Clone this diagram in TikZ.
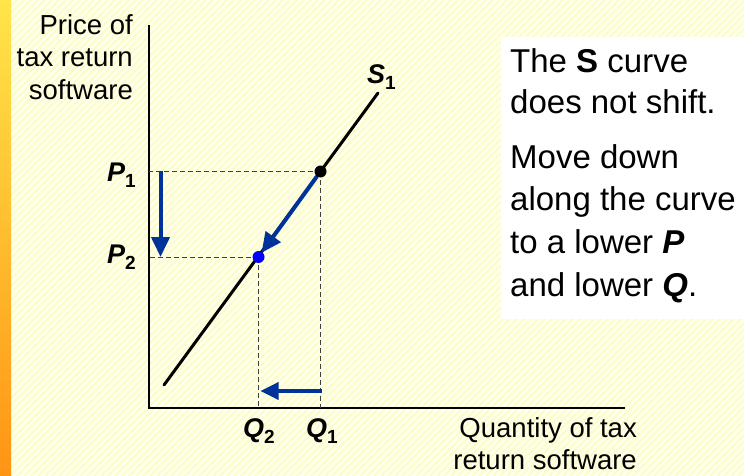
\documentclass[tikz,border=0pt]{standalone}
\usepackage{fontspec}
\setmainfont{Liberation Sans}
\usetikzlibrary{arrows.meta}
\definecolor{navy}{HTML}{003399}
\definecolor{bgcream}{HTML}{FFFFF2}
\definecolor{stripecol}{HTML}{FCFCCC}
\definecolor{striptop}{HTML}{FFE54A}
\definecolor{stripbot}{HTML}{FF9414}
\definecolor{dotblue}{HTML}{0000FF}
\newcommand{\sublab}[2]{\textbf{\textit{#1}}\raisebox{-6pt}{\fontsize{19}{19}\selectfont\bfseries #2}}
\tikzset{
  stripe/.style={stripecol, line width=2.6pt},
  axisline/.style={line width=2pt, black},
  supply/.style={line width=3pt, black},
  guide/.style={line width=0.9pt, black!75, dash pattern=on 5pt off 3pt},
  pdot/.style={circle, inner sep=0pt, minimum size=12pt},
  bigarrow/.style={navy, line width=4pt, -{Triangle[length=20pt,width=18pt]}},
  smallarrow/.style={navy, line width=3.5pt, -{Triangle[length=18pt,width=17pt]}},
  axislab/.style={inner sep=0pt, font=\fontsize{27.5}{32}\selectfont},
  boxtext/.style={inner sep=0pt, anchor=base west, font=\fontsize{33}{40}\selectfont},
  ptlab/.style={inner sep=0pt, font=\fontsize{27}{27}\selectfont}
}
\begin{document}
\begin{tikzpicture}[x=1pt,y=-1pt]
\useasboundingbox (0,0) rectangle (744,476);
% background
\fill[bgcream] (0,0) rectangle (744,476);
\begin{scope}
  \clip (11,0) rectangle (744,476);
  \foreach \i in {-480,-473,...,750} \draw[stripe] (\i,476) -- ++(476,-476);
\end{scope}
\shade[top color=striptop, bottom color=stripbot] (0,0) rectangle (11,476);
% text box
\fill[white] (501,37) rectangle (744,319);
% axes
\coordinate (ytop) at (148.5,25);
\coordinate (o) at (148.5,408);
\coordinate (xend) at (625,408);
\draw[axisline] (ytop) -- (o) -- (xend);
% supply curve
\coordinate (s0) at (164,385);
\coordinate (s1) at (378,93);
\draw[supply, line cap=round] (s0) -- (s1);
% points
\coordinate (a) at (320.5,171.5);
\coordinate (b) at (258.5,257);
\draw[guide] (a) -- (a -| o);
\draw[guide] (a) -- (a |- o);
\draw[guide] (b) -- (b -| o);
\draw[guide] (b) -- (b |- o);
\node[pdot, fill=black] (A) at (a) {};
\node[pdot, fill=dotblue] (B) at (b) {};
% arrows
\coordinate (va0) at (160.5,171);
\coordinate (va1) at (160.5,257);
\draw[bigarrow] (va0) -- (va1);
\draw[bigarrow, shorten >=-1pt] (A) -- (B);
\coordinate (ha0) at (321.5,391);
\coordinate (ha1) at (260.5,391);
\draw[smallarrow] (ha0) -- (ha1);
% point labels
\node[ptlab, anchor=base east] (p1) at (136,181) {\sublab{P}{1}};
\node[ptlab, anchor=base east] (p2) at (136,263) {\sublab{P}{2}};
\node[ptlab, anchor=base west] (q2) at (243,437) {\sublab{Q}{2}};
\node[ptlab, anchor=base west] (q1) at (306,437) {\sublab{Q}{1}};
\node[ptlab, anchor=base west] (s1lab) at (367,84) {\sublab{S}{1}};
% axis labels
\node[axislab, anchor=base east] (yl1) at (133,35) {Price of};
\node[axislab, anchor=base east] (yl2) at (133,67) {tax return};
\node[axislab, anchor=base east] (yl3) at (133,100) {software};
\node[axislab, anchor=base east] (xl1) at (637,437) {Quantity of tax};
\node[axislab, anchor=base east] (xl2) at (637,469) {return software};
% box text
\node[boxtext] (t1) at (510,73) {The \textbf{S} curve};
\node[boxtext] (t2) at (510,114) {does not shift.};
\node[boxtext] (t3) at (510,168) {Move down};
\node[boxtext] (t4) at (510,210) {along the curve};
\node[boxtext] (t5) at (510,253) {to a lower \textbf{\textit{P}}};
\node[boxtext] (t6) at (510,296) {and lower \textbf{\textit{Q}}.};
\end{tikzpicture}
\end{document}
